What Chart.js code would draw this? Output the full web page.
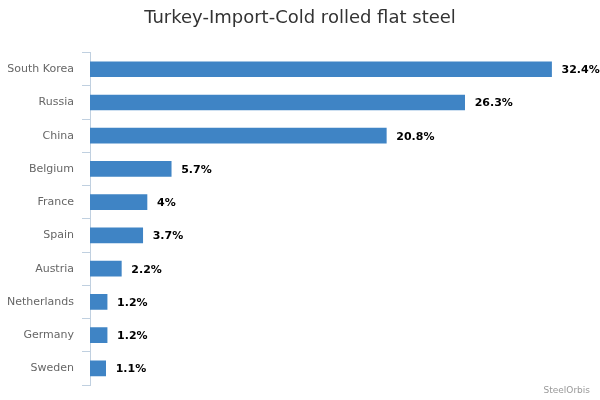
<!DOCTYPE html>
<html>
<head>
<meta charset="utf-8">
<script src="https://cdn.jsdelivr.net/npm/chart.js@4"></script>
<style>
  html, body { margin: 0; padding: 0; background: #fff; }
  #wrap { width: 600px; height: 400px; }
</style>
</head>
<body>
<div id="wrap"><canvas id="steelChart"></canvas></div>
<script>
const countries = ['South Korea', 'Russia', 'China', 'Belgium', 'France', 'Spain', 'Austria', 'Netherlands', 'Germany', 'Sweden'];
const shares = [32.4, 26.3, 20.8, 5.7, 4, 3.7, 2.2, 1.2, 1.2, 1.1];

const fontFamily = '"DejaVu Sans", "Lucida Grande", sans-serif';

// value labels at the end of each bar
const barLabels = {
    id: 'barLabels',
    afterDatasetsDraw(chart) {
        const ctx = chart.ctx;
        const meta = chart.getDatasetMeta(0);
        ctx.save();
        ctx.font = 'bold 11px ' + fontFamily;
        ctx.fillStyle = '#000';
        ctx.textAlign = 'left';
        ctx.textBaseline = 'middle';
        meta.data.forEach((bar, i) => {
            ctx.fillText(shares[i] + '%', bar.x + 10, bar.y + 1);
        });
        ctx.restore();
    }
};

const credits = {
    id: 'credits',
    afterDraw(chart) {
        const ctx = chart.ctx;
        ctx.save();
        ctx.font = '9px ' + fontFamily;
        ctx.fillStyle = '#999';
        ctx.textAlign = 'right';
        ctx.textBaseline = 'middle';
        ctx.fillText('SteelOrbis', 590, 391);
        ctx.restore();
    }
};

new Chart(document.getElementById('steelChart').getContext('2d'), {
    type: 'bar',
    data: {
        labels: countries,
        datasets: [{
            data: shares,
            backgroundColor: '#3F84C5',
            barThickness: 15,
        }]
    },
    options: {
        indexAxis: 'y',
        responsive: true,
        maintainAspectRatio: false,
        animation: false,
        layout: {
            padding: { top: 0, right: 0, bottom: 15, left: 0 }
        },
        scales: {
            x: {
                display: false,
                min: 0,
                max: 35.8,
            },
            y: {
                offset: true,
                border: { display: true, color: '#C0D0E0', width: 1 },
                grid: {
                    offset: true,
                    drawOnChartArea: false,
                    color: '#C0D0E0',
                    tickLength: 8,
                },
                ticks: {
                    color: '#666',
                    padding: 8,
                    font: { family: fontFamily, size: 11 },
                },
                afterFit(scale) {
                    scale.width = 90;
                }
            }
        },
        plugins: {
            legend: { display: false },
            tooltip: { enabled: false },
            title: {
                display: true,
                text: 'Turkey-Import-Cold rolled flat steel',
                color: '#333',
                font: { family: fontFamily, size: 18, weight: 'normal' },
                padding: { top: 8, bottom: 23 }
            }
        }
    },
    plugins: [barLabels, credits]
});
</script>
</body>
</html>
